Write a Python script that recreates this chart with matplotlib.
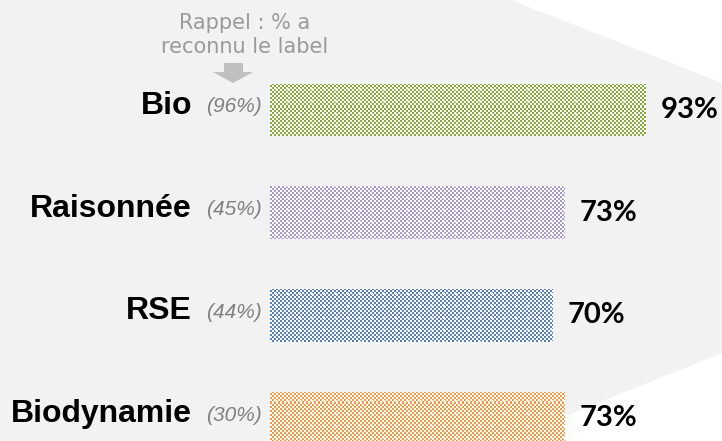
import numpy as np
import matplotlib
matplotlib.use("Agg")
import matplotlib.pyplot as plt
from matplotlib.patches import Polygon

# data
labels = ["Bio", "Raisonnée", "RSE", "Biodynamie"]
recall = ["(96%)", "(45%)", "(44%)", "(30%)"]
values = [93, 73, 70, 73]
colors = ["#86ab3a", "#a898c8", "#5a7fbd", "#f49a45"]

W, H = 722, 441
fig = plt.figure(figsize=(W / 100, H / 100), dpi=100)
fig.patch.set_facecolor("white")

def px(x, y):
    return (x / W, 1 - y / H)

# grey funnel background
bg = Polygon([px(0, 0), px(511, 0), px(722, 83), px(722, 353), px(503, 441), px(0, 441)],
             closed=True, transform=fig.transFigure, facecolor="#f2f2f2", edgecolor="none", zorder=-10)
fig.patches.append(bg)

ax = fig.add_axes([270 / W, 0, 404 / W, 1])
ax.set_zorder(1)
ax.patch.set_alpha(0)
ax.axis("off")
ylim = (3.223, -1.071)

ypos = np.arange(len(labels))
bars = ax.barh(ypos, values, height=0.515, color=colors, zorder=2)

# checker texture on top of the bars
nr, nc = H, 404
r, c = np.mgrid[0:nr, 0:nc]
white = ((r // 2 + c // 2) % 2 == 0)
cross = ((r % 12 == 6) & (c % 12 >= 5) & (c % 12 <= 7)) | ((c % 12 == 6) & (r % 12 >= 5) & (r % 12 <= 7))
mask = white | cross
tex = np.zeros((nr, nc, 4))
tex[..., :3] = 1.0
tex[..., 3] = np.where(mask, 1.0, 0.0)
for b in bars:
    im = ax.imshow(tex, extent=(0, 100, ylim[0], ylim[1]), aspect="auto",
                   interpolation="nearest", zorder=3)
    im.set_clip_path(b)

ax.set_xlim(0, 100)
ax.set_ylim(*ylim)

for i in range(len(labels)):
    ax.text(-19.3, i - 0.04, labels[i], ha="right", va="center", fontsize=23,
            fontweight="bold", family="Liberation Sans", color="black", clip_on=False)
    ax.text(-2.0, i - 0.03, recall[i], ha="right", va="center", fontsize=15,
            style="italic", family="Liberation Sans", color="#808080", clip_on=False)
    ax.text(values[i] + 3.6, i, f"{values[i]}%", ha="left", va="center", fontsize=21,
            fontweight="bold", family="Lato", color="black", clip_on=False)

# note + arrow
fig.text(*px(245, 35), "Rappel : % a\nreconnu le label", ha="center", va="center",
         fontsize=15, color="#9a9a9a", linespacing=1.25, family="DejaVu Sans")
arrow = Polygon([px(224, 63), px(243, 63), px(243, 72), px(253, 72), px(233, 83),
                 px(213, 72), px(224, 72)], closed=True, transform=fig.transFigure,
                facecolor="#c0c0c0", edgecolor="none", zorder=1)
fig.patches.append(arrow)

fig.savefig("out.png", dpi=100)
